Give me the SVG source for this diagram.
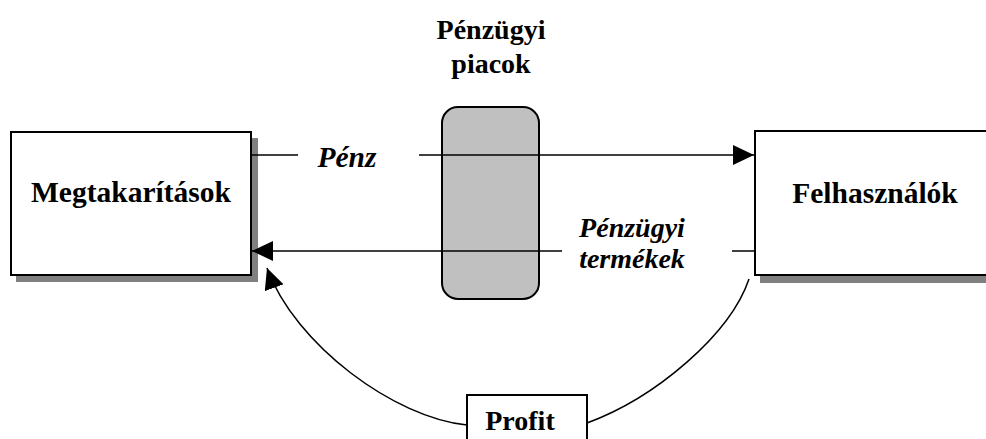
<svg xmlns="http://www.w3.org/2000/svg" width="986" height="439" viewBox="0 0 986 439">
  <style>
    .box { fill: #ffffff; stroke: #000000; stroke-width: 2; }
    .shadow { fill: #808080; stroke: none; }
    .market { fill: #c0c0c0; stroke: #000000; stroke-width: 2; }
    text { font-family: 'Liberation Serif', 'Times New Roman', serif; font-weight: 700; font-size: 28px; fill: #000000; text-anchor: middle; }
    .big { font-size: 29.5px; }
    .it { font-style: italic; }
    .wire { fill: none; stroke: #000000; stroke-width: 1.5; }
  </style>
  <defs>
    <marker id="head" markerUnits="userSpaceOnUse" markerWidth="21" markerHeight="20" refX="21" refY="10" orient="auto" viewBox="0 0 21 20">
      <path d="M0,0 L21,10 L0,20 Z" fill="#000000"/>
    </marker>
  </defs>
  <rect width="986" height="439" fill="#ffffff"/>

  <!-- savings -->
  <g id="megtakaritasok">
    <rect class="shadow" x="16" y="138" width="242" height="144"/>
    <rect class="box" x="11" y="132" width="240" height="143"/>
    <text class="big" x="131" y="202">Megtakarítások</text>
  </g>

  <!-- users -->
  <g id="felhasznalok">
    <rect class="shadow" x="760" y="138" width="240" height="145"/>
    <rect class="box" x="755" y="131" width="240" height="144"/>
    <text class="big" x="875" y="203">Felhasználók</text>
  </g>

  <!-- financial markets -->
  <g id="penzugyi-piacok">
    <text x="491" y="39">Pénzügyi</text>
    <text x="491" y="73">piacok</text>
    <rect class="market" x="442" y="107" width="97" height="192" rx="16" ry="16"/>
  </g>

  <!-- profit -->
  <g id="profit">
    <rect class="box" x="467" y="395" width="120" height="60"/>
    <text x="520" y="430" font-size="27">Profit</text>
  </g>

  <!-- flows -->
  <g id="connectors">
    <line class="wire" x1="251" y1="155" x2="298" y2="155"/>
    <line class="wire" x1="419" y1="155" x2="754" y2="155" marker-end="url(#head)"/>
    <text class="it big" x="347" y="167">Pénz</text>

    <line class="wire" x1="755" y1="251" x2="732" y2="251"/>
    <line class="wire" x1="562" y1="251" x2="252" y2="251" marker-end="url(#head)"/>
    <text class="it" x="632" y="237">Pénzügyi</text>
    <text class="it" x="632" y="268">termékek</text>

    <path class="wire" d="M467,425 C395,418 295,345 267,268" marker-end="url(#head)"/>
    <path class="wire" d="M587,423 C655,398 730,335 749,279"/>
  </g>
</svg>
